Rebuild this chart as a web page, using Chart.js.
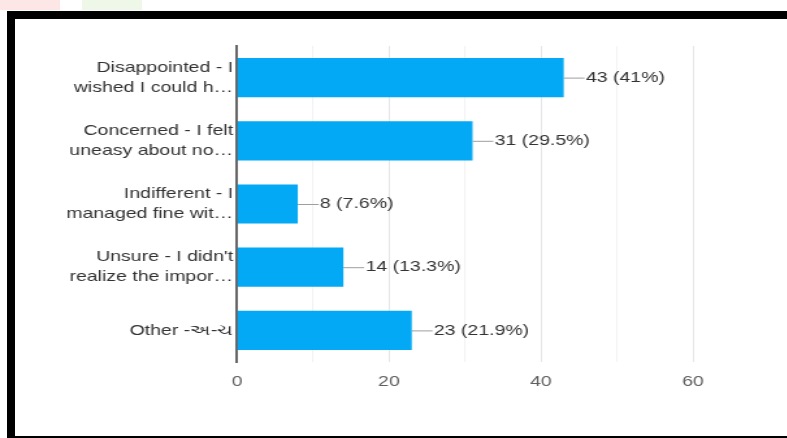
<!DOCTYPE html>
<html>
<head>
<meta charset="utf-8">
<script src="https://cdn.jsdelivr.net/npm/chart.js@4.4.0/dist/chart.umd.min.js"></script>
<style>
  html, body { margin: 0; padding: 0; background: #fff; }
  body { width: 787px; height: 438px; position: relative; overflow: hidden; }
  #frame { position: absolute; left: 7px; top: 11px; width: 780px; height: 427px;
           border-left: 8px solid #000; border-top: 8px solid #000; border-bottom: 2px solid #000; box-sizing: border-box; }
  #wm1 { position: absolute; left: 0; top: 0; width: 60px; height: 10px; background: #fde6e6; }
  #wm2 { position: absolute; left: 82px; top: 0; width: 60px; height: 10px; background: #eef7e8; }
  #wrap { position: absolute; left: 0; top: 0; width: 605px; height: 438px;
          transform: scaleX(1.3); transform-origin: 0 0; }
  #c { display: block; }
</style>
</head>
<body>
<div id="wm1"></div><div id="wm2"></div>
<div id="frame"></div>
<div id="wrap"><canvas id="c" width="605" height="438"></canvas></div>
<script>
const categories = [
  ["Disappointed - I", "wished I could h\u2026"],
  ["Concerned - I felt", "uneasy about no\u2026"],
  ["Indifferent - I", "managed fine wit\u2026"],
  ["Unsure - I didn't", "realize the impor\u2026"],
  "Other -\u0A85-\u0A9A"
];
const counts = [43, 31, 8, 14, 23];
const percentLabels = ["41%", "29.5%", "7.6%", "13.3%", "21.9%"];
const xTicks = [0, 20, 40, 60];

const FONT = "'Liberation Sans', Arial, sans-serif";

const valueLabels = {
  id: 'valueLabels',
  afterDatasetsDraw(chart) {
    const ctx = chart.ctx;
    const meta = chart.getDatasetMeta(0);
    ctx.save();
    ctx.font = "15px " + FONT;
    ctx.textBaseline = 'middle';
    ctx.textAlign = 'left';
    meta.data.forEach((bar, i) => {
      const x = bar.x, y = bar.y;
      ctx.strokeStyle = '#9e9e9e';
      ctx.lineWidth = 1;
      ctx.beginPath();
      ctx.moveTo(x, y + 0.5);
      ctx.lineTo(x + 16, y + 0.5);
      ctx.stroke();
      ctx.fillStyle = '#333';
      ctx.fillText(counts[i] + " (" + percentLabels[i] + ")", x + 17, y);
    });
    ctx.restore();
  }
};

new Chart(document.getElementById('c'), {
  type: 'bar',
  data: {
    labels: categories,
    datasets: [{
      data: counts,
      backgroundColor: '#03a9f4',
      borderWidth: 0,
      barPercentage: 0.62,
      categoryPercentage: 1.0
    }]
  },
  options: {
    indexAxis: 'y',
    responsive: false,
    animation: false,
    events: [],
    layout: { padding: { top: 46, right: 72, left: 0, bottom: 0 } },
    plugins: { legend: { display: false }, tooltip: { enabled: false } },
    scales: {
      x: {
        min: 0, max: 60,
        ticks: {
          stepSize: 10,
          autoSkip: false,
          maxRotation: 0,
          padding: 11,
          color: '#5f5f5f',
          font: { family: FONT, size: 15 },
          callback: (v) => xTicks.includes(v) ? String(v) : ''
        },
        grid: {
          color: (c) => (c.tick && c.tick.value % 20 === 0) ? '#e6e6e6' : '#f2f2f2',
          drawTicks: false
        },
        border: { display: false },
        afterFit: (s) => { s.height = 76; }
      },
      y: {
        ticks: {
          color: '#333',
          padding: 3,
          font: { family: FONT, size: 15, lineHeight: 1.33 },
          autoSkip: false
        },
        grid: { display: false, drawTicks: false },
        border: { display: true, color: '#666', width: 2 },
        afterFit: (s) => { s.width = 182.3; }
      }
    }
  },
  plugins: [valueLabels]
});
</script>
</body>
</html>
